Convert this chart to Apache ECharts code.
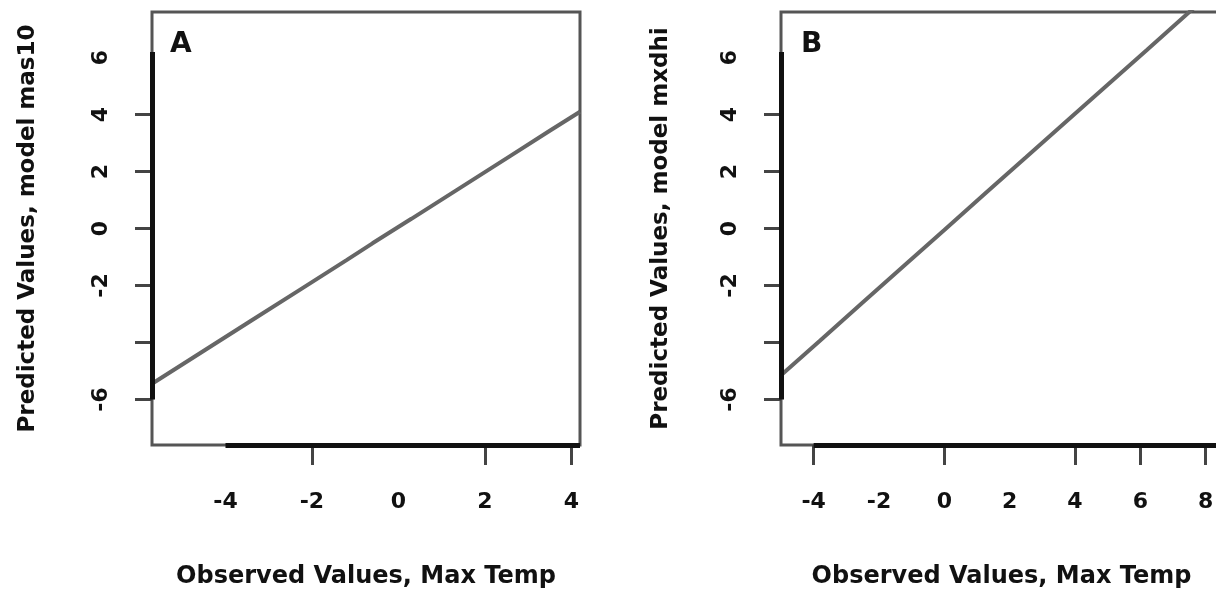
<!DOCTYPE html>
<html>
<head>
<meta charset="utf-8">
<script src="https://cdn.jsdelivr.net/npm/echarts@6/dist/echarts.min.js"></script>
<style>
  html, body { margin: 0; padding: 0; background: #fff; }
  #chart { width: 1216px; height: 590px; }
</style>
</head>
<body>
<div id="chart"></div>
<script>
// panel A: observed vs predicted (model mas10)
const obsA = [-5.7, -4.6, -3.4, -2.3, -1.2, -0.6, 0.3, 1.4, 2.6, 3.5, 4.2]
const predA = [-5.45, -4.39, -3.23, -2.17, -1.11, -0.52, 0.34, 1.4, 2.56, 3.43, 4.1]
// panel B
const obsB = [-5, -3.8, -2.5, -1.2, 0, 1.3, 2.5, 3.8, 5, 6.2, 7.5, 8.5]
const predB = [-5.15, -3.93, -2.6, -1.27, -0.05, 1.28, 2.5, 3.83, 5.05, 6.27, 7.6, 8.62]

const yTicks = [-6, -4, -2, 0, 2, 4]
const yLabels = [-6, -2, 0, 2, 4, 6]
const xTicksA = [-2, 2, 4]
const xLabelsA = [-4, -2, 0, 2, 4]
const xTicksB = [-4, 0, 4, 6, 8]
const xLabelsB = [-4, -2, 0, 2, 4, 6, 8]

const FONT = 'DejaVu Sans'
const zip = (a, b) => a.map((v, i) => [v, b[i]])

function xAxis(idx, min, max, ticks, labels) {
  return {
    type: 'value', gridIndex: idx, min, max,
    name: 'Observed Values, Max Temp', nameLocation: 'middle', nameGap: 120,
    nameTextStyle: { fontFamily: FONT, fontWeight: 'bold', fontSize: 24, color: '#111' },
    axisLine: { show: false, onZero: false },
    splitLine: { show: false },
    axisTick: { show: true, inside: false, customValues: ticks, length: 20, lineStyle: { color: '#444', width: 3 } },
    axisLabel: { customValues: labels, margin: 46, fontFamily: FONT, fontWeight: 'bold', fontSize: 22, color: '#111', showMinLabel: true, showMaxLabel: true }
  }
}
function yAxis(idx, name, gap) {
  return {
    type: 'value', gridIndex: idx, min: -7.6, max: 7.6,
    name, nameLocation: 'middle', nameGap: gap, nameRotate: 90,
    nameTextStyle: { fontFamily: FONT, fontWeight: 'bold', fontSize: 23, color: '#111' },
    axisLine: { show: false, onZero: false },
    splitLine: { show: false },
    axisTick: { show: true, inside: false, customValues: yTicks, length: 17, lineStyle: { color: '#444', width: 3 } },
    axisLabel: { customValues: yLabels, rotate: 90, margin: 40, fontFamily: FONT, fontWeight: 'bold', fontSize: 22, color: '#111' }
  }
}
// black axis segments drawn over the gray box
function axisSeg(idx, xmin, xmax, ymin, xFrom, yFrom, yTo) {
  return {
    type: 'line', xAxisIndex: idx, yAxisIndex: idx, data: [], clip: false, silent: true,
    markLine: {
      symbol: 'none', silent: true, animation: false, label: { show: false },
      lineStyle: { color: '#111', width: 5, type: 'solid' },
      data: [
        [{ coord: [xmin, yFrom] }, { coord: [xmin, yTo] }],
        [{ coord: [xFrom, ymin] }, { coord: [xmax, ymin] }]
      ]
    }
  }
}

const chart = echarts.init(document.getElementById('chart'))
chart.setOption({
  animation: false,
  backgroundColor: '#fff',
  title: [
    { text: 'A', left: 165, top: 26, textStyle: { fontFamily: FONT, fontWeight: 'bold', fontSize: 28, color: '#111' } },
    { text: 'B', left: 796, top: 26, textStyle: { fontFamily: FONT, fontWeight: 'bold', fontSize: 28, color: '#111' } }
  ],
  grid: [
    { left: 152, top: 12, width: 428, height: 433, show: true, borderColor: '#555', borderWidth: 3, containLabel: false, outerBoundsMode: 'none' },
    { left: 781, top: 12, width: 441, height: 433, show: true, borderColor: '#555', borderWidth: 3, containLabel: false, outerBoundsMode: 'none' }
  ],
  xAxis: [
    xAxis(0, -5.7, 4.2, xTicksA, xLabelsA),
    xAxis(1, -5, 8.5, xTicksB, xLabelsB)
  ],
  yAxis: [
    yAxis(0, 'Predicted Values, model mas10', 112),
    yAxis(1, 'Predicted Values, model mxdhi', 108)
  ],
  series: [
    {
      type: 'line', xAxisIndex: 0, yAxisIndex: 0, data: zip(obsA, predA),
      symbol: 'none', lineStyle: { color: '#666', width: 4 }
    },
    {
      type: 'line', xAxisIndex: 1, yAxisIndex: 1, data: zip(obsB, predB),
      symbol: 'none', lineStyle: { color: '#666', width: 4 }
    },
    axisSeg(0, -5.7, 4.2, -7.6, -4, -6, 6.2),
    axisSeg(1, -5, 8.5, -7.6, -4, -6, 6.2)
  ]
})
</script>
</body>
</html>
